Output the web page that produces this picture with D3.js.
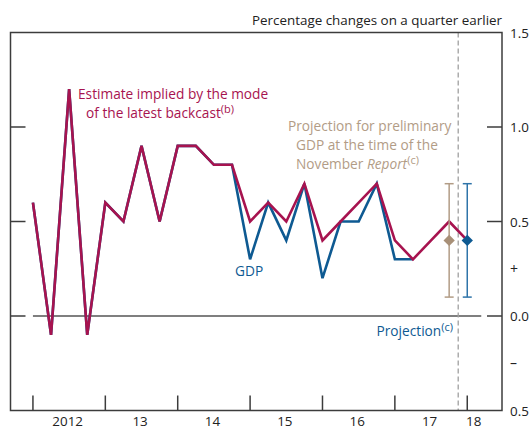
<!DOCTYPE html>
<html lang="en">
<head>
    <meta charset="UTF-8">
    <title>GDP growth and backcast</title>
    <style>
        body {
            margin: 0;
            background: #ffffff;
            font-family: 'Open Sans', sans-serif;
        }
        svg text {
            font-family: 'Open Sans', sans-serif;
        }
    </style>
</head>
<body>
    <div id="chart"></div>

    <script src="https://cdnjs.cloudflare.com/ajax/libs/d3/7.8.5/d3.min.js"></script>
    <script>
        // quarters 2012 Q1 - 2018 Q1
        const quarters = [
            "2012 Q1", "2012 Q2", "2012 Q3", "2012 Q4",
            "2013 Q1", "2013 Q2", "2013 Q3", "2013 Q4",
            "2014 Q1", "2014 Q2", "2014 Q3", "2014 Q4",
            "2015 Q1", "2015 Q2", "2015 Q3", "2015 Q4",
            "2016 Q1", "2016 Q2", "2016 Q3", "2016 Q4",
            "2017 Q1", "2017 Q2", "2017 Q3", "2017 Q4",
            "2018 Q1"
        ];

        // estimate implied by the mode of the latest backcast
        const backcast = [
            0.6, -0.1, 1.2, -0.1,
            0.6, 0.5, 0.9, 0.5,
            0.9, 0.9, 0.8, 0.8,
            0.5, 0.6, 0.5, 0.7,
            0.4, 0.5, 0.6, 0.7,
            0.4, 0.3, 0.4, 0.5,
            0.4
        ];

        // GDP (latest data, up to 2017 Q2)
        const gdp = [
            0.6, -0.1, 1.2, -0.1,
            0.6, 0.5, 0.9, 0.5,
            0.9, 0.9, 0.8, 0.8,
            0.3, 0.6, 0.4, 0.7,
            0.2, 0.5, 0.5, 0.7,
            0.3, 0.3
        ];

        // projections with ranges
        const projQuarters = ["2017 Q4", "2018 Q1"];
        const projCentral = [0.4, 0.4];
        const projLow = [0.1, 0.1];
        const projHigh = [0.7, 0.7];

        // axis labels
        const yearTicks = [2012, 2013, 2014, 2015, 2016, 2017, 2018];
        const yearLabels = ["2012", "13", "14", "15", "16", "17", "18"];
        const yTicks = [1.5, 1.0, 0.5, 0.0, -0.5];
        const yTickLabels = ["1.5", "1.0", "0.5", "0.0", "0.5"];

        const red = "#a7134f";
        const blue = "#0e5a92";
        const blueBar = "#2f74a9";
        const tan = "#b29c86";
        const axisCol = "#3c3c3c";

        const W = 531, H = 430;
        const svg = d3.select("#chart")
            .append("svg")
            .attr("width", W)
            .attr("height", H);

        // quarter string -> fractional year
        const qt = s => +s.slice(0, 4) + (+s.slice(6) - 1) / 4;

        const x = d3.scaleLinear()
            .domain([2011.69, 2018.48])
            .range([10.5, 502]);

        const y = d3.scaleLinear()
            .domain([-0.5, 1.5])
            .range([410.5, 32.5]);

        const xL = x.range()[0], xR = x.range()[1];
        const yT = y.range()[1], yB = y.range()[0];

        // zero line
        svg.append("line")
            .attr("x1", x(qt(quarters[0])))
            .attr("x2", x(2018) + 14)
            .attr("y1", y(0))
            .attr("y2", y(0))
            .attr("stroke", "#555")
            .attr("stroke-width", 1.5);

        // dashed line between latest data and projection
        svg.append("line")
            .attr("x1", x(2017.875))
            .attr("x2", x(2017.875))
            .attr("y1", yT)
            .attr("y2", yB)
            .attr("stroke", "#a0a0a0")
            .attr("stroke-width", 1.3)
            .attr("stroke-dasharray", "5,3");

        // frame
        svg.append("rect")
            .attr("x", xL)
            .attr("y", yT)
            .attr("width", xR - xL)
            .attr("height", yB - yT)
            .attr("fill", "none")
            .attr("stroke", axisCol)
            .attr("stroke-width", 1.5);

        // inward ticks on both sides
        const innerTicks = yTicks.filter(v => v > -0.5 && v < 1.5);
        svg.append("g")
            .selectAll("line")
            .data(innerTicks)
            .enter()
            .append("line")
            .attr("x1", xL)
            .attr("x2", xL + 15)
            .attr("y1", d => y(d))
            .attr("y2", d => y(d))
            .attr("stroke", axisCol)
            .attr("stroke-width", 1.5);

        svg.append("g")
            .selectAll("line")
            .data(innerTicks)
            .enter()
            .append("line")
            .attr("x1", xR - 15)
            .attr("x2", xR)
            .attr("y1", d => y(d))
            .attr("y2", d => y(d))
            .attr("stroke", axisCol)
            .attr("stroke-width", 1.5);

        // year ticks on bottom
        svg.append("g")
            .selectAll("line")
            .data(yearTicks)
            .enter()
            .append("line")
            .attr("x1", d => x(d))
            .attr("x2", d => x(d))
            .attr("y1", yB)
            .attr("y2", yB - 15)
            .attr("stroke", axisCol)
            .attr("stroke-width", 1.5);

        // year labels (centred in each year, the last one squeezed)
        svg.append("g")
            .selectAll("text")
            .data(yearTicks)
            .enter()
            .append("text")
            .attr("x", (d, i) => i === yearTicks.length - 1 ? x(d + 0.09) : x(d + 0.48))
            .attr("y", 426)
            .attr("text-anchor", "middle")
            .attr("font-size", "13.4px")
            .attr("fill", "#222")
            .text((d, i) => yearLabels[i]);

        // right-hand labels
        svg.append("g")
            .selectAll("text")
            .data(yTicks)
            .enter()
            .append("text")
            .attr("x", xR + 8)
            .attr("y", d => y(d) + 5)
            .attr("font-size", "13.4px")
            .attr("fill", "#222")
            .text((d, i) => yTickLabels[i]);

        svg.append("text")
            .attr("x", xR + 8)
            .attr("y", y(0.25) + 5)
            .attr("font-size", "14px")
            .attr("fill", "#222")
            .text("+");

        svg.append("text")
            .attr("x", xR + 8)
            .attr("y", y(-0.25) + 5)
            .attr("font-size", "14px")
            .attr("fill", "#222")
            .text("\u2013");

        svg.append("text")
            .attr("x", xR)
            .attr("y", 25)
            .attr("text-anchor", "end")
            .attr("font-size", "13.4px")
            .attr("fill", "#222")
            .text("Percentage changes on a quarter earlier");

        // lines
        const line = d3.line()
            .x(d => x(d.t))
            .y(d => y(d.v));

        const gdpData = gdp.map((v, i) => ({ t: qt(quarters[i]), v: v }));
        const backData = backcast.map((v, i) => ({ t: qt(quarters[i]), v: v }));

        svg.append("path")
            .datum(gdpData)
            .attr("d", line)
            .attr("fill", "none")
            .attr("stroke", blue)
            .attr("stroke-width", 2.6)
            .attr("stroke-linejoin", "miter");

        svg.append("path")
            .datum(backData)
            .attr("d", line)
            .attr("fill", "none")
            .attr("stroke", red)
            .attr("stroke-width", 2.6)
            .attr("stroke-linejoin", "miter");

        // projections: error bars + diamonds
        const projCols = [tan, blueBar];
        const diaCols = ["#a89078", blue];
        projQuarters.forEach((q, i) => {
            const cx = x(qt(q));
            const g = svg.append("g");
            g.append("line")
                .attr("x1", cx).attr("x2", cx)
                .attr("y1", y(projLow[i])).attr("y2", y(projHigh[i]))
                .attr("stroke", projCols[i]).attr("stroke-width", 1.5);
            [projLow[i], projHigh[i]].forEach(v => {
                g.append("line")
                    .attr("x1", cx - 4.5).attr("x2", cx + 4.5)
                    .attr("y1", y(v)).attr("y2", y(v))
                    .attr("stroke", projCols[i]).attr("stroke-width", 1.5);
            });
            g.append("path")
                .attr("d", d3.symbol().type(d3.symbolSquare).size(64)())
                .attr("transform", `translate(${cx},${y(projCentral[i])}) rotate(45)`)
                .attr("fill", diaCols[i]);
        });

        // annotations
        const est = svg.append("text")
            .attr("font-size", "13.7px")
            .attr("fill", red);
        est.append("tspan").attr("x", 78).attr("y", 99).text("Estimate implied by the mode");
        est.append("tspan").attr("x", 86).attr("y", 117.5).text("of the latest backcast");
        est.append("tspan").attr("dy", -5).attr("font-size", "11px").text("(b)");

        const nov = svg.append("text")
            .attr("font-size", "13.7px")
            .attr("fill", tan);
        nov.append("tspan").attr("x", 288).attr("y", 131).text("Projection for preliminary");
        nov.append("tspan").attr("x", 296).attr("y", 150).text("GDP at the time of the");
        nov.append("tspan").attr("x", 296).attr("y", 169).text("November ");
        nov.append("tspan").attr("font-style", "italic").text("Report");
        nov.append("tspan").attr("dy", -5).attr("font-size", "11px").text("(c)");

        svg.append("text")
            .attr("x", 235)
            .attr("y", 276)
            .attr("font-size", "13.7px")
            .attr("fill", blue)
            .text("GDP");

        const proj = svg.append("text")
            .attr("x", 453)
            .attr("y", 336)
            .attr("text-anchor", "end")
            .attr("font-size", "13.7px")
            .attr("fill", blue);
        proj.append("tspan").text("Projection");
        proj.append("tspan").attr("dy", -5).attr("font-size", "11px").text("(c)");
    </script>
</body>
</html>
